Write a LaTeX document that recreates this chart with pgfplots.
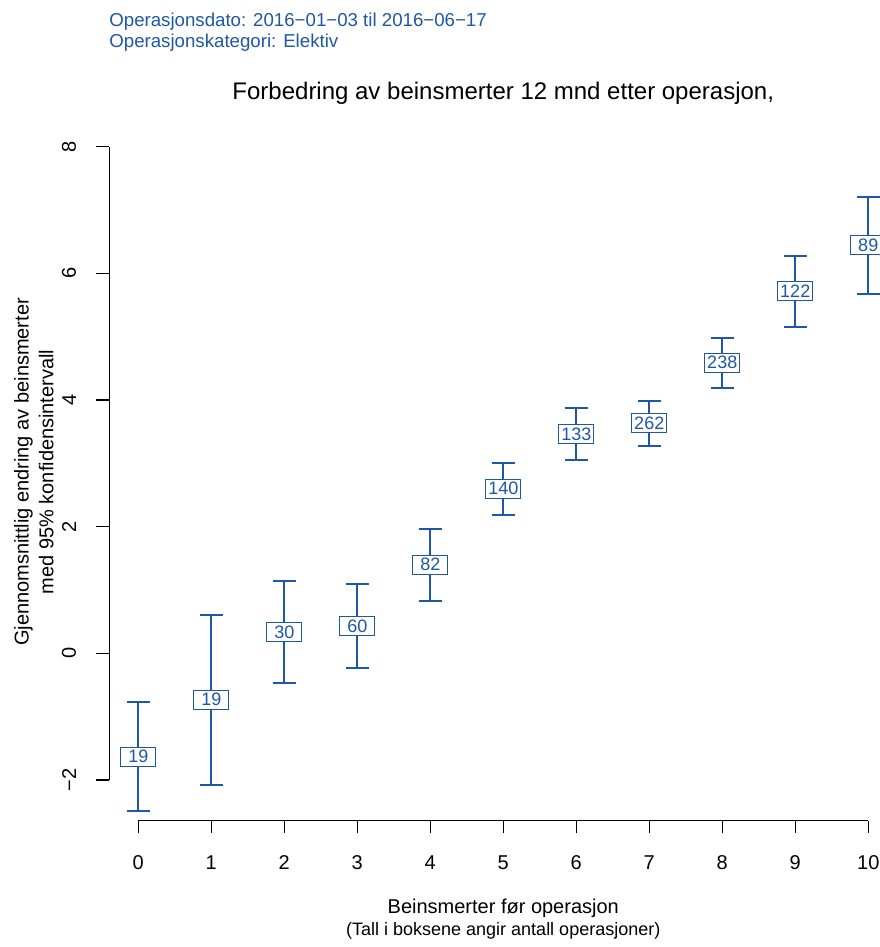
\documentclass[border=0pt]{standalone}
\usepackage{pgfplots}
\pgfplotsset{compat=1.18}
\usepackage{pgfplotstable}
\usepackage{fontspec}
\setmainfont{Liberation Sans}
\definecolor{blu}{RGB}{29,87,165}
\pgfplotstableread{
x mean lo hi n
0 -1.63 -2.49 -0.77 19
1 -0.73 -2.08 0.61 19
2 0.33 -0.47 1.14 30
3 0.43 -0.23 1.09 60
4 1.40 0.82 1.96 82
5 2.60 2.19 3.01 140
6 3.46 3.05 3.88 133
7 3.63 3.28 3.98 262
8 4.59 4.19 4.98 238
9 5.72 5.16 6.27 122
10 6.45 5.68 7.21 89
}\datatable
\newcommand{\fs}[1]{\fontsize{#1}{#1}\selectfont}
\begin{document}
\begin{tikzpicture}
\begin{axis}[
  scale only axis,
  x=54.75pt, y=47.5pt,
  xmin=-0.4, xmax=10.4, ymin=-2.643, ymax=8.37,
  clip=false,
  axis x line*=bottom, axis y line*=left,
  x axis line style={draw=none}, y axis line style={draw=none},
  tick align=outside, major tick length=9.5pt,
  tick style={black, line width=0.8pt},
  xtick={0,1,2,3,4,5,6,7,8,9,10},
  xticklabels={0,1,2,3,4,5,6,7,8,9,10},
  ytick={-2,0,2,4,6,8},
  yticklabels={−2,0,2,4,6,8},
  ticklabel style={font=\fs{15}, inner sep=0pt},
  xticklabel style={anchor=north},
  yticklabel style={rotate=90, anchor=south},
  xticklabel shift=16.5pt,
  yticklabel shift=15pt,
  minor tick num=0,
]
\addplot[blu, only marks, mark=none,
  error bars/.cd, y dir=both, y explicit,
  error bar style={line width=1.5pt, blu},
  error mark options={rotate=90, blu, mark size=8.75pt, line width=1.5pt},
] table[x=x, y=mean, y error plus expr=\thisrow{hi}-\thisrow{mean}, y error minus expr=\thisrow{mean}-\thisrow{lo}] {\datatable};
\addplot[blu, only marks, mark=none, point meta=explicit symbolic,
  nodes near coords,
  every node near coord/.style={draw=blu, fill=white, line width=0.75pt, minimum width=26.25pt, minimum height=14.25pt, inner sep=0pt, anchor=center, font=\fs{13.5}, text=blu},
] table[x=x, y=mean, meta=n] {\datatable};
\draw[black, line width=0.8pt] (axis cs:0,-2.643) -- (axis cs:10,-2.643);
\draw[black, line width=0.8pt] (axis cs:-0.4,-2) -- (axis cs:-0.4,8);
\node[font=\fs{18}, anchor=center] at (axis cs:5,8.848) {Forbedring av beinsmerter 12 mnd etter operasjon,};
\node[font=\fs{14}, text=blu, anchor=west, inner sep=0pt] at (axis cs:-0.4,9.97) {Operasjonsdato: 2016−01−03 til 2016−06−17};
\node[font=\fs{14}, text=blu, anchor=west, inner sep=0pt] at (axis cs:-0.4,9.65) {Operasjonskategori: Elektiv};
\node[font=\fs{15}, anchor=center, inner sep=0pt] at (axis cs:5,-4.021) {Beinsmerter før operasjon};
\node[font=\fs{13.5}, anchor=center, inner sep=0pt] at (axis cs:5,-4.384) {(Tall i boksene angir antall operasjoner)};
\node[font=\fs{15}, rotate=90, anchor=center, inner sep=0pt] at (axis cs:-1.573,2.864) {Gjennomsnittlig endring av beinsmerter};
\node[font=\fs{15}, rotate=90, anchor=center, inner sep=0pt] at (axis cs:-1.26,2.864) {med 95\% konfidensintervall};
\coordinate (bbsw) at (axis cs:-1.8945,-4.6369);
\coordinate (bbne) at (axis cs:10.1603,10.3164);
\end{axis}
\pgfresetboundingbox
\path[use as bounding box] (bbsw) rectangle (bbne);
\end{tikzpicture}
\end{document}
